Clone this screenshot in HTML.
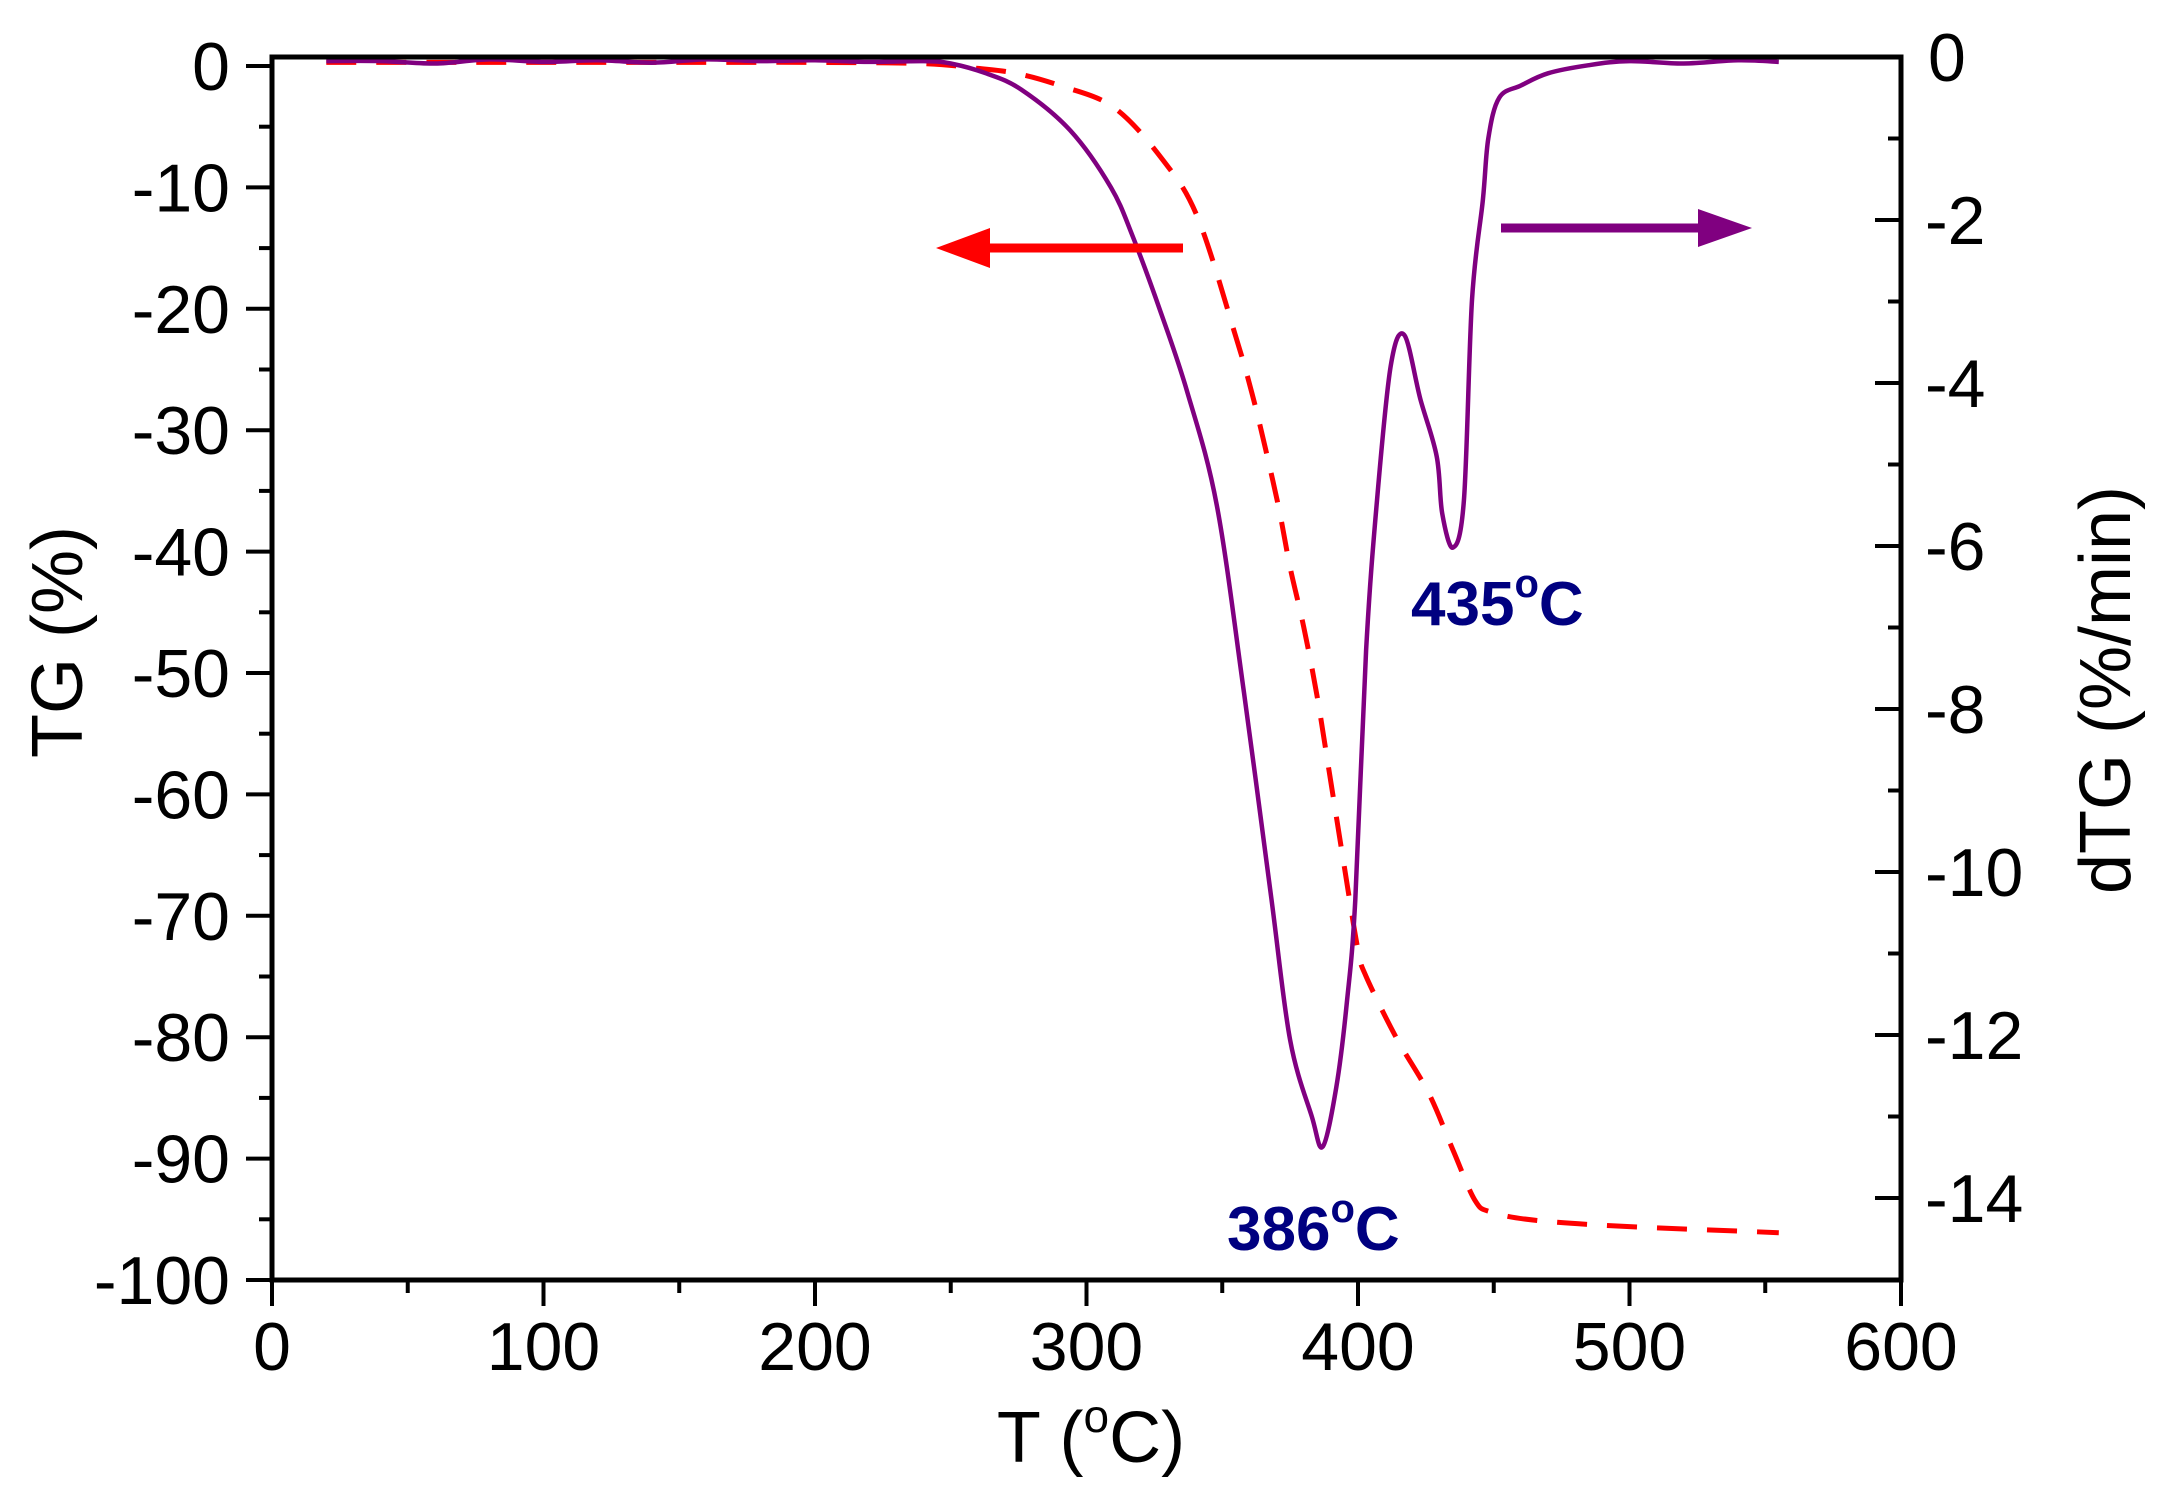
<!DOCTYPE html>
<html><head><meta charset="utf-8">
<style>
html,body{margin:0;padding:0;background:#fff;}
svg{display:block;}
text{font-family:"Liberation Sans",Arial,sans-serif;}
</style></head>
<body>
<svg id="chart" width="2166" height="1496" viewBox="0 0 2166 1496" xmlns="http://www.w3.org/2000/svg">
<g id="plot"></g>
</svg>
<script>
const xTicks = [0,100,200,300,400,500,600];
const tgTicks = [0,-10,-20,-30,-40,-50,-60,-70,-80,-90,-100];
const dtgTicks = [0,-2,-4,-6,-8,-10,-12,-14];
const tgT = [20,60,100,150,200,240,260,274,290,310,328,341,355,361,366,371,375,380,385,390,395,400,403,414,426,435,443,449,466,500,555];
const tgV = [0.3,0.3,0.3,0.3,0.3,0.2,-0.2,-0.6,-1.6,-3.4,-7.7,-12.5,-22.3,-27,-31.6,-36.6,-41.3,-46.2,-52,-59,-66,-72.8,-75,-80,-84.6,-89.3,-93.4,-94.4,-95.1,-95.6,-96.1];
const dtgT = [20,40,60,80,100,120,140,160,180,200,220,240,250,263,276,294,309,317,327,337,348,358,368,375,383,387,392,396,399,403,407,412,417,423,429,431,435,439,442,446,448,452,460,470,485,500,520,540,555];
const dtgV = [-0.05,-0.05,-0.08,-0.03,-0.06,-0.04,-0.07,-0.03,-0.05,-0.04,-0.06,-0.05,-0.08,-0.2,-0.4,-0.9,-1.6,-2.2,-3.1,-4.1,-5.5,-7.8,-10.3,-12.06,-13.0,-13.37,-12.64,-11.57,-10.34,-7.28,-5.44,-3.8,-3.41,-4.2,-4.9,-5.6,-6.02,-5.44,-2.98,-1.75,-1.0,-0.5,-0.35,-0.2,-0.1,-0.05,-0.08,-0.04,-0.06];

const NS = "http://www.w3.org/2000/svg";
const L=272,R=1901,T=57,B=1280;
const xs = v => L + (v/600)*(R-L);
const ys = v => 66 + (-v/100)*1214;
const yd = v => 57 + (-v)*81.5;
const g = document.getElementById('plot');
function mk(tag, attrs, parent){const e=document.createElementNS(NS,tag);for(const k in attrs)e.setAttribute(k,attrs[k]);(parent||g).appendChild(e);return e;}
function smooth(P){
  let d='M'+P[0][0].toFixed(1)+','+P[0][1].toFixed(1);
  for(let i=0;i<P.length-1;i++){
    const p0=P[Math.max(0,i-1)],p1=P[i],p2=P[i+1],p3=P[Math.min(P.length-1,i+2)];
    const c1=[p1[0]+(p2[0]-p0[0])/6,p1[1]+(p2[1]-p0[1])/6];
    const c2=[p2[0]-(p3[0]-p1[0])/6,p2[1]-(p3[1]-p1[1])/6];
    d+=` C${c1[0].toFixed(1)},${c1[1].toFixed(1)} ${c2[0].toFixed(1)},${c2[1].toFixed(1)} ${p2[0].toFixed(1)},${p2[1].toFixed(1)}`;
  }
  return d;
}

const d1 = smooth(tgT.map((t,i)=>[xs(t),ys(tgV[i])]));
const tgLine = mk('path',{d:d1,fill:'none',stroke:'#ff0000','stroke-width':5,'stroke-dasharray':'30 20','stroke-linejoin':'round'});


const d2 = smooth(dtgT.map((t,i)=>[xs(t),yd(dtgV[i])]));
const dLine = mk('path',{d:d2,fill:'none',stroke:'#800080','stroke-width':4.5,'stroke-linejoin':'round'});



const frame = mk('path',{d:`M${L},${B} L${L},${T} L${R},${T} L${R},${B} Z`,fill:'none',stroke:'#000','stroke-width':5});



for(let v=0; v<=600; v+=50){
  const major = v%100===0;
  const tk = mk('line',{x1:xs(v),x2:xs(v),y1:B,y2:B+(major?26:13),stroke:'#000','stroke-width':4});
  
  
}
xTicks.forEach(v=>{
  const t = mk('text',{x:xs(v),y:1370,'font-size':68,'text-anchor':'middle'}); t.textContent=v;
  
  
});
for(let v=0; v>=-100; v-=5){
  const major = v%10===0;
  const tk = mk('line',{x1:L-(major?26:13),x2:L,y1:ys(v),y2:ys(v),stroke:'#000','stroke-width':4});
  
  
}
tgTicks.forEach(v=>{
  const t = mk('text',{x:230,y:ys(v)+24,'font-size':68,'text-anchor':'end'}); t.textContent=v;
  
  
});
for(let v=0; v>=-15; v-=1){
  const major = v%2===0;
  const tk = mk('line',{x1:R-(major?26:13),x2:R,y1:yd(v),y2:yd(v),stroke:'#000','stroke-width':4});
  
  
}
dtgTicks.forEach(v=>{
  const t = mk('text',{x:v===0?1928:1925,y:yd(v)+24,'font-size':68,'text-anchor':'start'}); t.textContent=v;
  
  
});

const ra = mk('line',{x1:1183,y1:248,x2:975,y2:248,stroke:'#ff0000','stroke-width':9});


const rh = mk('polygon',{points:'936,248 990,228 990,268',fill:'#ff0000'});


const pa = mk('line',{x1:1501,y1:228,x2:1710,y2:228,stroke:'#800080','stroke-width':9});


const ph = mk('polygon',{points:'1752,228 1698,209 1698,247',fill:'#800080'});


</script>
<svg style="position:absolute;left:0;top:0" width="2166" height="1496" xmlns="http://www.w3.org/2000/svg">
<text x="1411" y="625" font-size="62" font-weight="bold" fill="#000080" font-family="Liberation Sans, sans-serif">435<tspan font-size="40" dy="-28">o</tspan><tspan dy="28">C</tspan></text>
<text x="1227" y="1250" font-size="62" font-weight="bold" fill="#000080" font-family="Liberation Sans, sans-serif">386<tspan font-size="40" dy="-28">o</tspan><tspan dy="28">C</tspan></text>
<text x="1091" y="1462" font-size="72" text-anchor="middle" font-family="Liberation Sans, sans-serif">T (<tspan font-size="46" dy="-30">o</tspan><tspan dy="30">C)</tspan></text>
<text x="0" y="0" font-size="72" text-anchor="middle" transform="translate(82,642) rotate(-90)" font-family="Liberation Sans, sans-serif">TG (%)</text>
<text x="0" y="0" font-size="72" text-anchor="middle" transform="translate(2130,690) rotate(-90)" font-family="Liberation Sans, sans-serif">dTG (%/min)</text>
</svg>
</body></html>
